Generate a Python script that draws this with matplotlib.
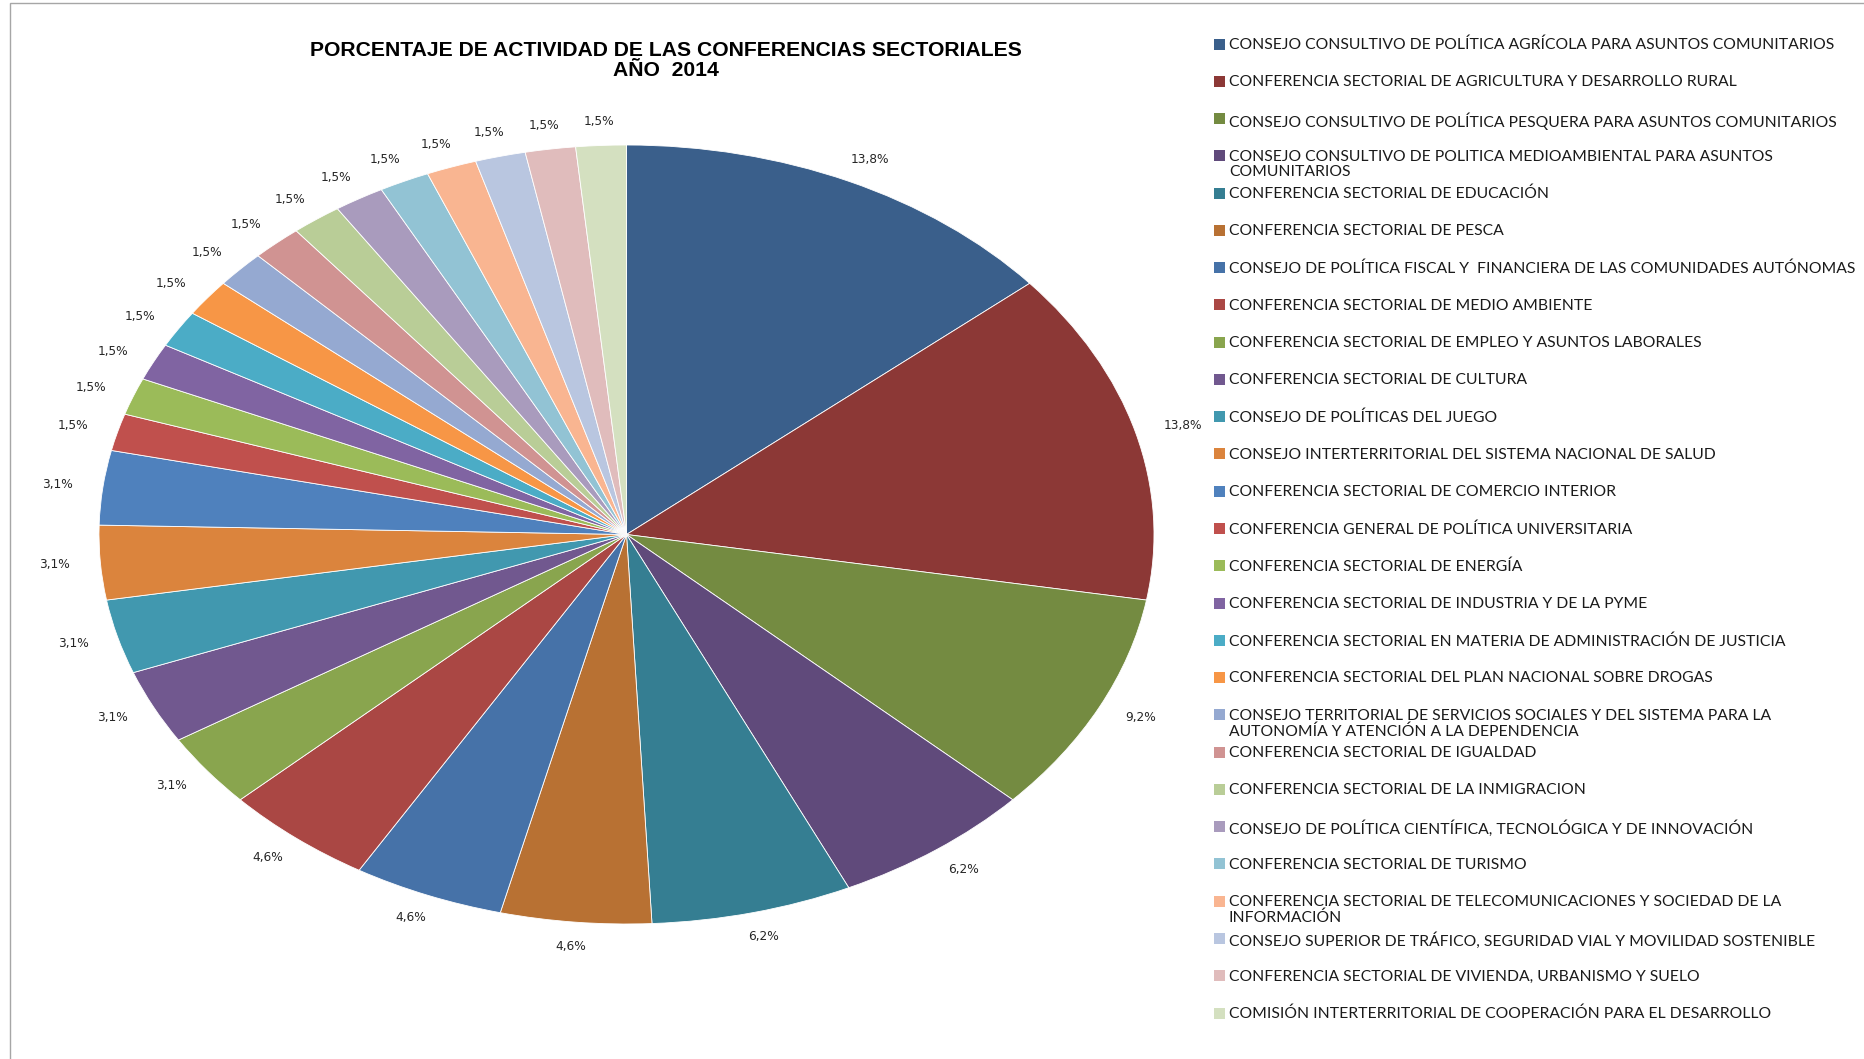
import matplotlib
matplotlib.use("Agg")
import matplotlib.pyplot as plt
import numpy as np
from matplotlib.patches import Rectangle

W, H = 1865, 1059

TITLE = "PORCENTAJE DE ACTIVIDAD DE LAS CONFERENCIAS SECTORIALES\nAÑO  2014"

organos = [
    "CONSEJO CONSULTIVO DE POLÍTICA AGRÍCOLA PARA ASUNTOS COMUNITARIOS",
    "CONFERENCIA SECTORIAL DE AGRICULTURA Y DESARROLLO RURAL",
    "CONSEJO CONSULTIVO DE POLÍTICA PESQUERA PARA ASUNTOS COMUNITARIOS",
    "CONSEJO CONSULTIVO DE POLITICA MEDIOAMBIENTAL PARA ASUNTOS\nCOMUNITARIOS",
    "CONFERENCIA SECTORIAL DE EDUCACIÓN",
    "CONFERENCIA SECTORIAL DE PESCA",
    "CONSEJO DE POLÍTICA FISCAL Y  FINANCIERA DE LAS COMUNIDADES AUTÓNOMAS",
    "CONFERENCIA SECTORIAL DE MEDIO AMBIENTE",
    "CONFERENCIA SECTORIAL DE EMPLEO Y ASUNTOS LABORALES",
    "CONFERENCIA SECTORIAL DE CULTURA",
    "CONSEJO DE POLÍTICAS DEL JUEGO",
    "CONSEJO INTERTERRITORIAL DEL SISTEMA NACIONAL DE SALUD",
    "CONFERENCIA SECTORIAL DE COMERCIO INTERIOR",
    "CONFERENCIA GENERAL DE POLÍTICA UNIVERSITARIA",
    "CONFERENCIA SECTORIAL DE ENERGÍA",
    "CONFERENCIA SECTORIAL DE INDUSTRIA Y DE LA PYME",
    "CONFERENCIA SECTORIAL EN MATERIA DE ADMINISTRACIÓN DE JUSTICIA",
    "CONFERENCIA SECTORIAL DEL PLAN NACIONAL SOBRE DROGAS",
    "CONSEJO TERRITORIAL DE SERVICIOS SOCIALES Y DEL SISTEMA PARA LA\nAUTONOMÍA Y ATENCIÓN A LA DEPENDENCIA",
    "CONFERENCIA SECTORIAL DE IGUALDAD",
    "CONFERENCIA SECTORIAL DE LA INMIGRACION",
    "CONSEJO DE POLÍTICA CIENTÍFICA, TECNOLÓGICA Y DE INNOVACIÓN",
    "CONFERENCIA SECTORIAL DE TURISMO",
    "CONFERENCIA SECTORIAL DE TELECOMUNICACIONES Y SOCIEDAD DE LA\nINFORMACIÓN",
    "CONSEJO SUPERIOR DE TRÁFICO, SEGURIDAD VIAL Y MOVILIDAD SOSTENIBLE",
    "CONFERENCIA SECTORIAL DE VIVIENDA, URBANISMO Y SUELO",
    "COMISIÓN INTERTERRITORIAL DE COOPERACIÓN PARA EL DESARROLLO",
]

# number of meetings per body (65 in total)
reuniones = [9, 9, 6, 4, 4, 3, 3, 3, 2, 2, 2, 2, 2,
             1, 1, 1, 1, 1, 1, 1, 1, 1, 1, 1, 1, 1, 1]

colores = [
    "#3A5F8B", "#8C3836", "#748B41", "#604A7B", "#357E92", "#B87133",
    "#4672A8", "#AA4744", "#89A54E", "#71588F", "#4198AF", "#DB843D",
    "#4F81BD", "#C0504D", "#9BBB59", "#8064A2", "#4BACC6", "#F79646",
    "#95A9D1", "#D09392", "#B9CD97", "#A99BBD", "#92C3D4", "#F9B591",
    "#B9C6E0", "#E0BCBC", "#D4E0C0",
]

fig = plt.figure(figsize=(W / 100, H / 100), dpi=100)

# chart frame (left and top edges visible)
fig.add_artist(Rectangle((10 / W, -0.05), 1.2, 1 - 3 / H + 0.05,
                         transform=fig.transFigure, facecolor="none",
                         edgecolor="#A6A6A6", linewidth=1.0))

# ---------- pie (stretched to an ellipse) ----------
ax = fig.add_axes([99 / W, (H - 924) / H, 1055 / W, 779 / H])
wedges, _ = ax.pie(reuniones, colors=colores, startangle=90, counterclock=False,
                   wedgeprops=dict(edgecolor="white", linewidth=0.6))
ax.set_aspect("auto")
ax.set_xlim(-1, 1)
ax.set_ylim(-1, 1)

total = sum(reuniones)
for w, v in zip(wedges, reuniones):
    ang = np.deg2rad((w.theta1 + w.theta2) / 2)
    cx, cy = np.cos(ang), np.sin(ang)
    txt = f"{100 * v / total:.1f}%".replace(".", ",")
    half_w = 3.9 * len(txt)
    ax.annotate(txt, xy=(1.057 * cx, 1.047 * cy),
                xytext=(half_w * cx, 6 * cy), textcoords="offset pixels",
                ha="center", va="center", fontsize=8.7,
                family="DejaVu Sans", color="#262626", annotation_clip=False)

# ---------- title ----------
fig.text(666 / W, 1 - 60.5 / H, TITLE, ha="center", va="center",
         fontsize=15.2, fontweight="bold", family="Liberation Sans",
         linespacing=1.06, color="black")

# ---------- legend ----------
y0, step = 44, 37.27
for i, (lab, col) in enumerate(zip(organos, colores)):
    yr = y0 + i * step
    fig.add_artist(Rectangle((1214 / W, 1 - (yr + 5.5) / H), 11 / W, 11 / H,
                             transform=fig.transFigure, facecolor=col,
                             edgecolor="none"))
    fig.text(1229 / W, 1 - (yr - 6.2) / H, lab, ha="left", va="top",
             fontsize=11.3, family="Lato", linespacing=1.15, color="#1A1A1A")

fig.savefig("out.png", dpi=100)
